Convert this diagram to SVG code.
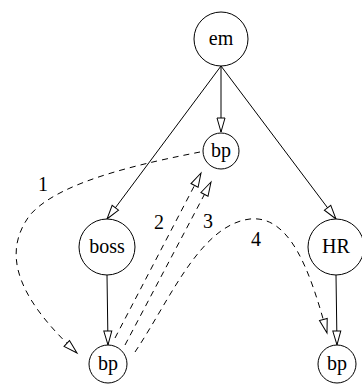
<svg xmlns="http://www.w3.org/2000/svg" width="362" height="384" viewBox="0 0 362 384">
<style>
.node circle{fill:#fff;stroke:#000;stroke-width:1}
.t{font-family:"Liberation Serif",serif;font-size:20px;fill:#000;text-anchor:middle}
.e{fill:none;stroke:#000;stroke-width:1}
.d{stroke-dasharray:6,5}
</style>
<defs>
<marker id="a" markerUnits="userSpaceOnUse" markerWidth="16" markerHeight="10" refX="14" refY="4" orient="auto" overflow="visible">
<path d="M0,0 L14,4 L0,8 Z" fill="#fff" stroke="#000" stroke-width="1" stroke-dasharray="none"/>
</marker>
</defs>
<rect width="362" height="384" fill="#fff"/>
<g id="connectors">
<path class="e" d="M221,66 L221,132" marker-end="url(#a)"/>
<path class="e" d="M221,66 L107,219" marker-end="url(#a)"/>
<path class="e" d="M221,66 L336,219" marker-end="url(#a)"/>
<path class="e" d="M107,275 L108,345" marker-end="url(#a)"/>
<path class="e" d="M336,275 L337,345" marker-end="url(#a)"/>
<path class="e d" d="M200,152 C150,162 60,180 30,215 C0,255 20,300 77,353" marker-end="url(#a)"/>
<path class="e d" d="M115,338 L201,173" marker-end="url(#a)"/>
<path class="e d" d="M125,345 L211,182" marker-end="url(#a)"/>
<path class="e d" d="M135,352 C170,300 200,225 250,219 C290,215 310,270 327,333" marker-end="url(#a)"/>
<text class="t" x="43" y="191">1</text>
<text class="t" x="159" y="229">2</text>
<text class="t" x="208" y="228">3</text>
<text class="t" x="256" y="246">4</text>
</g>
<g id="em" class="node"><circle cx="221" cy="39" r="27"/><text class="t" x="221" y="45">em</text></g>
<g id="bp_top" class="node"><circle cx="221" cy="151" r="18"/><text class="t" x="221" y="157">bp</text></g>
<g id="boss" class="node"><circle cx="107" cy="247" r="28"/><text class="t" x="107" y="253">boss</text></g>
<g id="HR" class="node"><circle cx="336" cy="247" r="28"/><text class="t" x="336" y="253">HR</text></g>
<g id="bp_left" class="node"><circle cx="108" cy="364" r="19"/><text class="t" x="108" y="370">bp</text></g>
<g id="bp_right" class="node"><circle cx="337" cy="364" r="19"/><text class="t" x="337" y="370">bp</text></g>
</svg>
